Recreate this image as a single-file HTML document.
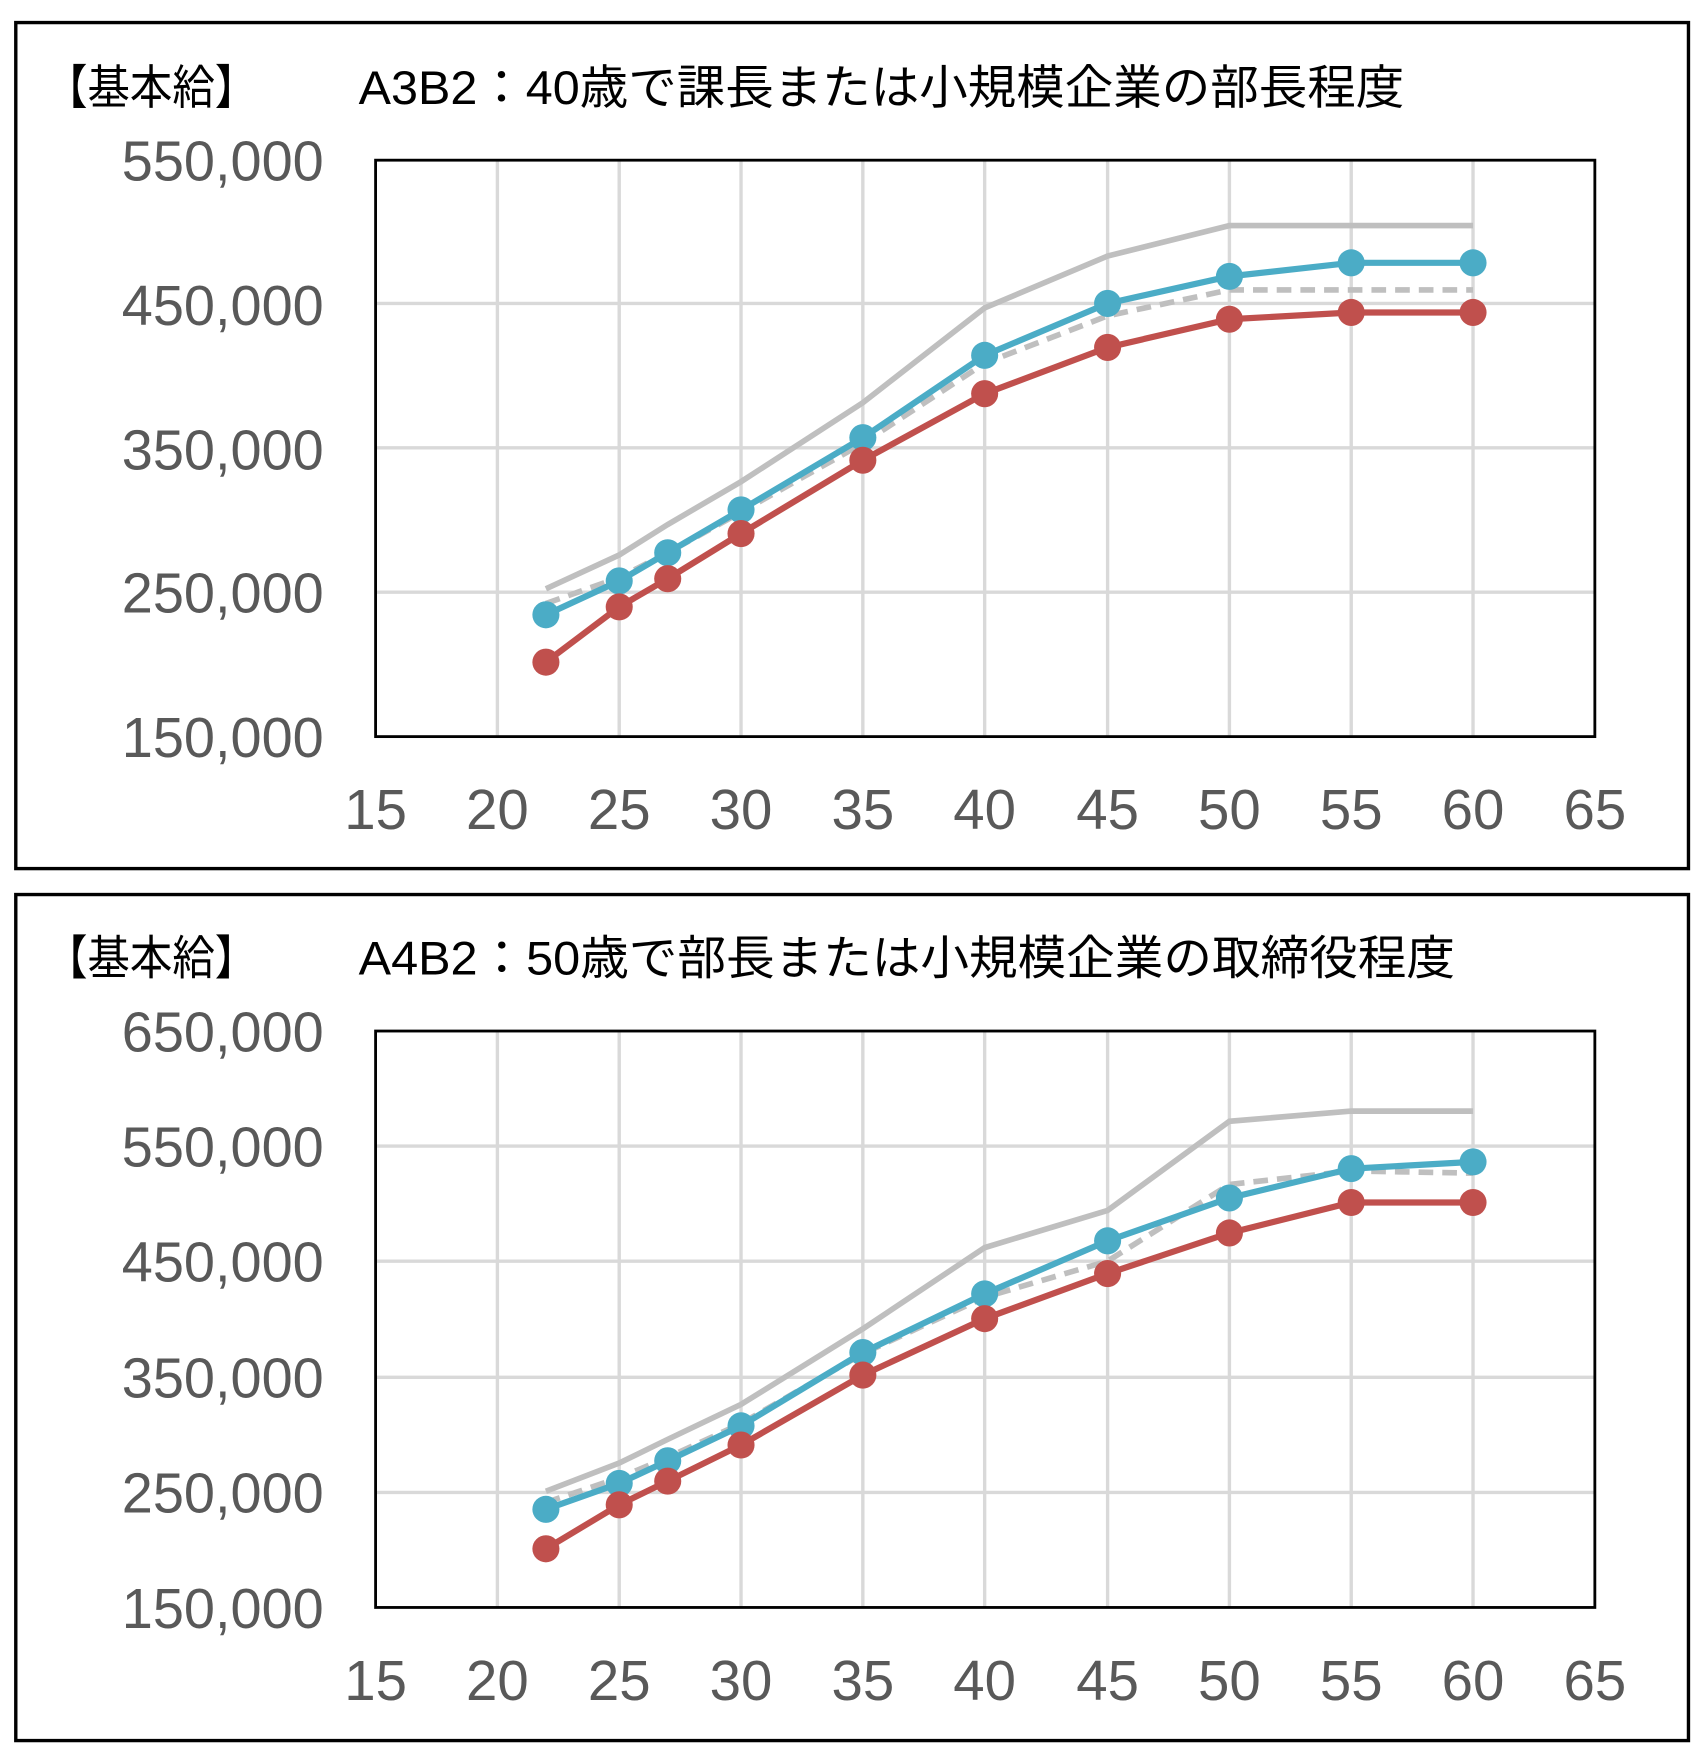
<!DOCTYPE html>
<html><head><meta charset="utf-8"><style>
html,body{margin:0;padding:0;background:#fff}
svg{display:block}
text{font-family:"Liberation Sans","Noto Sans CJK JP",sans-serif}
.t{fill:#000;font-size:42px}
.ax{fill:#595959;font-size:50px}
.g{stroke:#d9d9d9;stroke-width:3;fill:none}
</style></head><body>
<svg width="1702" height="1762" viewBox="0 0 1509 1562" preserveAspectRatio="none" xmlns="http://www.w3.org/2000/svg">
<rect x="0" y="0" width="1509" height="1562" fill="#fff"/>
<!-- Chart 1 -->
<rect x="14" y="20" width="1483" height="750" fill="none" stroke="#000" stroke-width="3"/>
<text class="t" x="40" y="92" textLength="188" lengthAdjust="spacingAndGlyphs">【基本給】</text>
<text class="t" x="318" y="92" textLength="927" lengthAdjust="spacingAndGlyphs">A3B2：40歳で課長または小規模企業の部長程度</text>
<g class="g">
<line x1="441" y1="142" x2="441" y2="653"/><line x1="549" y1="142" x2="549" y2="653"/><line x1="657" y1="142" x2="657" y2="653"/><line x1="765" y1="142" x2="765" y2="653"/><line x1="873" y1="142" x2="873" y2="653"/><line x1="982" y1="142" x2="982" y2="653"/><line x1="1090" y1="142" x2="1090" y2="653"/><line x1="1198" y1="142" x2="1198" y2="653"/><line x1="1306" y1="142" x2="1306" y2="653"/>
<line x1="333" y1="525" x2="1414" y2="525"/><line x1="333" y1="397" x2="1414" y2="397"/><line x1="333" y1="269" x2="1414" y2="269"/>
</g>
<rect x="333" y="142" width="1081" height="511" fill="none" stroke="#000" stroke-width="2.5"/>
<g class="ax" text-anchor="end">
<text x="287" y="160" textLength="179" lengthAdjust="spacingAndGlyphs">550,000</text>
<text x="287" y="288" textLength="179" lengthAdjust="spacingAndGlyphs">450,000</text>
<text x="287" y="416" textLength="179" lengthAdjust="spacingAndGlyphs">350,000</text>
<text x="287" y="543" textLength="179" lengthAdjust="spacingAndGlyphs">250,000</text>
<text x="287" y="671" textLength="179" lengthAdjust="spacingAndGlyphs">150,000</text>
</g>
<g class="ax" text-anchor="middle">
<text x="333" y="735">15</text><text x="441" y="735">20</text><text x="549" y="735">25</text><text x="657" y="735">30</text><text x="765" y="735">35</text><text x="873" y="735">40</text><text x="982" y="735">45</text><text x="1090" y="735">50</text><text x="1198" y="735">55</text><text x="1306" y="735">60</text><text x="1414" y="735">65</text>
</g>
<polyline fill="none" stroke="#bfbfbf" stroke-width="5" points="484,522 549,492 592,465 657,427 765,357 873,273 982,227 1090,200 1198,200 1306,200"/>
<polyline fill="none" stroke="#bfbfbf" stroke-width="5" stroke-dasharray="13,8" points="484,535 549,512 592,490 657,454 765,393 873,322 982,280 1090,257 1198,257 1306,257"/>
<polyline fill="none" stroke="#4bacc6" stroke-width="5.5" points="484,545 549,515 592,490 657,452 765,388 873,315 982,269 1090,245 1198,233 1306,233"/>
<polyline fill="none" stroke="#c0504d" stroke-width="5.5" points="484,587 549,538 592,513 657,473 765,408 873,349 982,308 1090,283 1198,277 1306,277"/>
<g fill="#4bacc6"><circle cx="484" cy="545" r="12"/><circle cx="549" cy="515" r="12"/><circle cx="592" cy="490" r="12"/><circle cx="657" cy="452" r="12"/><circle cx="765" cy="388" r="12"/><circle cx="873" cy="315" r="12"/><circle cx="982" cy="269" r="12"/><circle cx="1090" cy="245" r="12"/><circle cx="1198" cy="233" r="12"/><circle cx="1306" cy="233" r="12"/></g>
<g fill="#c0504d"><circle cx="484" cy="587" r="12"/><circle cx="549" cy="538" r="12"/><circle cx="592" cy="513" r="12"/><circle cx="657" cy="473" r="12"/><circle cx="765" cy="408" r="12"/><circle cx="873" cy="349" r="12"/><circle cx="982" cy="308" r="12"/><circle cx="1090" cy="283" r="12"/><circle cx="1198" cy="277" r="12"/><circle cx="1306" cy="277" r="12"/></g>

<!-- Chart 2 -->
<rect x="14" y="793" width="1483" height="750" fill="none" stroke="#000" stroke-width="3"/>
<text class="t" x="40" y="864" textLength="188" lengthAdjust="spacingAndGlyphs">【基本給】</text>
<text class="t" x="318" y="864" textLength="972" lengthAdjust="spacingAndGlyphs">A4B2：50歳で部長または小規模企業の取締役程度</text>
<g class="g">
<line x1="441" y1="914" x2="441" y2="1425"/><line x1="549" y1="914" x2="549" y2="1425"/><line x1="657" y1="914" x2="657" y2="1425"/><line x1="765" y1="914" x2="765" y2="1425"/><line x1="873" y1="914" x2="873" y2="1425"/><line x1="982" y1="914" x2="982" y2="1425"/><line x1="1090" y1="914" x2="1090" y2="1425"/><line x1="1198" y1="914" x2="1198" y2="1425"/><line x1="1306" y1="914" x2="1306" y2="1425"/>
<line x1="333" y1="1016" x2="1414" y2="1016"/><line x1="333" y1="1118" x2="1414" y2="1118"/><line x1="333" y1="1221" x2="1414" y2="1221"/><line x1="333" y1="1323" x2="1414" y2="1323"/>
</g>
<rect x="333" y="914" width="1081" height="511" fill="none" stroke="#000" stroke-width="2.5"/>
<g class="ax" text-anchor="end">
<text x="287" y="932" textLength="179" lengthAdjust="spacingAndGlyphs">650,000</text>
<text x="287" y="1034" textLength="179" lengthAdjust="spacingAndGlyphs">550,000</text>
<text x="287" y="1136" textLength="179" lengthAdjust="spacingAndGlyphs">450,000</text>
<text x="287" y="1239" textLength="179" lengthAdjust="spacingAndGlyphs">350,000</text>
<text x="287" y="1341" textLength="179" lengthAdjust="spacingAndGlyphs">250,000</text>
<text x="287" y="1443" textLength="179" lengthAdjust="spacingAndGlyphs">150,000</text>
</g>
<g class="ax" text-anchor="middle">
<text x="333" y="1507">15</text><text x="441" y="1507">20</text><text x="549" y="1507">25</text><text x="657" y="1507">30</text><text x="765" y="1507">35</text><text x="873" y="1507">40</text><text x="982" y="1507">45</text><text x="1090" y="1507">50</text><text x="1198" y="1507">55</text><text x="1306" y="1507">60</text><text x="1414" y="1507">65</text>
</g>
<polyline fill="none" stroke="#bfbfbf" stroke-width="5" points="484,1322 549,1297 592,1276 657,1245 765,1178 873,1106 982,1073 1090,994 1198,985 1306,985"/>
<polyline fill="none" stroke="#bfbfbf" stroke-width="5" stroke-dasharray="13,8" points="484,1332 549,1310 592,1292 657,1262 765,1200 873,1150 982,1118 1090,1050 1198,1038 1306,1040"/>
<polyline fill="none" stroke="#4bacc6" stroke-width="5.5" points="484,1338 549,1315 592,1295 657,1264 765,1199 873,1147 982,1100 1090,1062 1198,1036 1306,1030"/>
<polyline fill="none" stroke="#c0504d" stroke-width="5.5" points="484,1373 549,1334 592,1313 657,1281 765,1219 873,1169 982,1129 1090,1093 1198,1066 1306,1066"/>
<g fill="#4bacc6"><circle cx="484" cy="1338" r="12"/><circle cx="549" cy="1315" r="12"/><circle cx="592" cy="1295" r="12"/><circle cx="657" cy="1264" r="12"/><circle cx="765" cy="1199" r="12"/><circle cx="873" cy="1147" r="12"/><circle cx="982" cy="1100" r="12"/><circle cx="1090" cy="1062" r="12"/><circle cx="1198" cy="1036" r="12"/><circle cx="1306" cy="1030" r="12"/></g>
<g fill="#c0504d"><circle cx="484" cy="1373" r="12"/><circle cx="549" cy="1334" r="12"/><circle cx="592" cy="1313" r="12"/><circle cx="657" cy="1281" r="12"/><circle cx="765" cy="1219" r="12"/><circle cx="873" cy="1169" r="12"/><circle cx="982" cy="1129" r="12"/><circle cx="1090" cy="1093" r="12"/><circle cx="1198" cy="1066" r="12"/><circle cx="1306" cy="1066" r="12"/></g>
</svg>
</body></html>
